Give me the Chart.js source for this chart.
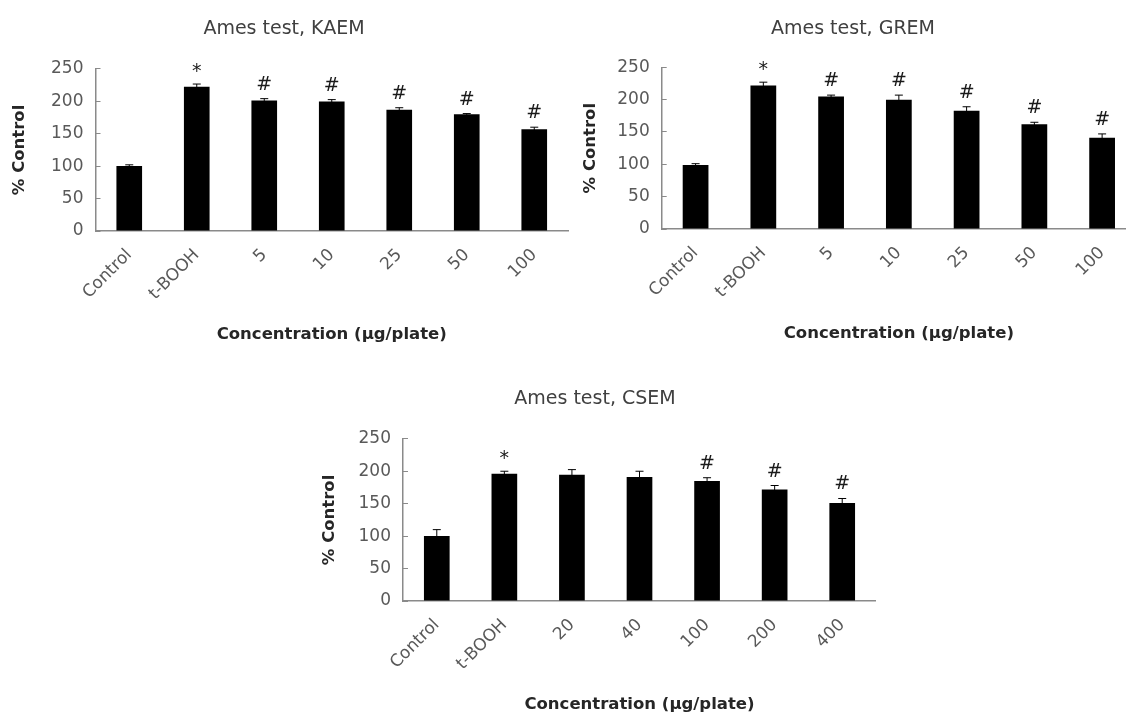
<!DOCTYPE html>
<html>
<head>
<meta charset="utf-8">
<script src="https://cdn.jsdelivr.net/npm/chart.js@4.4.1/dist/chart.umd.min.js"></script>
<style>
  html, body { margin: 0; padding: 0; background: #fff; overflow: hidden; width: 1126px; height: 715px; }
  canvas { position: absolute; }
</style>
</head>
<body>
<canvas id="kaem" width="572" height="360" style="left:0px;top:0px"></canvas>
<canvas id="grem" width="566" height="360" style="left:570px;top:0px"></canvas>
<canvas id="csem" width="562" height="345" style="left:314px;top:370px"></canvas>
<script>
// DATOS
const yTicks = [0, 50, 100, 150, 200, 250];

const catsKAEM = ['Control', 't-BOOH', '5', '10', '25', '50', '100'];
const valsKAEM = [100, 222.5, 201, 199.5, 187, 180, 157];
const errsKAEM = [2, 4, 3, 3, 3, 1, 3];
const marksKAEM = ['', '*', '#', '#', '#', '#', '#'];

const catsGREM = ['Control', 't-BOOH', '5', '10', '25', '50', '100'];
const valsGREM = [99, 222, 205, 200, 183, 162, 141];
const errsGREM = [2, 5, 2, 7, 6, 3, 6];
const marksGREM = ['', '*', '#', '#', '#', '#', '#'];

const catsCSEM = ['Control', 't-BOOH', '20', '40', '100', '200', '400'];
const valsCSEM = [100, 196, 194.5, 191, 185, 172, 151];
const errsCSEM = [10, 4, 8, 9, 5, 6, 7];
const marksCSEM = ['', '*', '', '', '#', '#', '#'];

const FONT = '"DejaVu Sans", Verdana, sans-serif';
const AXIS_GREY = '#8a8a8a';

// barras de error + símbolos de significancia
const errorPlugin = {
    id: 'errorBars',
    afterDatasetsDraw(chart) {
        const ctx = chart.ctx;
        const yScale = chart.scales.y;
        const meta = chart.getDatasetMeta(0);
        const ds = chart.data.datasets[0];
        ctx.save();
        meta.data.forEach((bar, i) => {
            const v = ds.data[i];
            const e = ds.errors[i];
            const yTop = yScale.getPixelForValue(v + e);
            const yBot = yScale.getPixelForValue(v - e);
            ctx.strokeStyle = '#000';
            ctx.lineWidth = 1;
            ctx.beginPath();
            ctx.moveTo(bar.x, yBot);
            ctx.lineTo(bar.x, yTop);
            ctx.moveTo(bar.x - 4, yTop);
            ctx.lineTo(bar.x + 4, yTop);
            ctx.stroke();
            if (ds.marks[i]) {
                ctx.fillStyle = '#1a1a1a';
                ctx.font = '19px ' + FONT;
                ctx.textAlign = 'center';
                ctx.textBaseline = 'alphabetic';
                ctx.fillText(ds.marks[i], bar.x, yTop - (ds.marks[i] === '#' ? 9 : 7));
            }
        });
        ctx.restore();
    }
};

function makeChart(id, title, cats, vals, errs, marks, geo) {
    return new Chart(document.getElementById(id), {
        type: 'bar',
        data: {
            labels: cats,
            datasets: [{
                data: vals,
                errors: errs,
                marks: marks,
                backgroundColor: '#000',
                barPercentage: 1,
                categoryPercentage: 0.38
            }]
        },
        options: {
            responsive: false,
            animation: false,
            layout: { padding: { left: 0, right: geo.padRight, top: 0, bottom: 0 } },
            plugins: {
                legend: { display: false },
                tooltip: { enabled: false },
                title: {
                    display: true,
                    text: title,
                    color: '#404040',
                    font: { family: FONT, size: 19, weight: 'normal' },
                    padding: { top: 18, bottom: geo.titleGap }
                }
            },
            scales: {
                x: {
                    afterFit: (s) => { s.height = geo.xHeight; },
                    grid: { display: false, drawTicks: false },
                    border: { display: true, color: AXIS_GREY, width: 1.5 },
                    ticks: {
                        color: '#595959',
                        font: { family: FONT, size: 17 },
                        minRotation: 45,
                        maxRotation: 45,
                        padding: 14
                    },
                    title: {
                        display: true,
                        text: 'Concentration (μg/plate)',
                        color: '#262626',
                        font: { family: FONT, size: 16.5, weight: 'bold' },
                        padding: { top: 0, bottom: geo.xTitlePad }
                    }
                },
                y: {
                    min: 0,
                    max: 250,
                    afterFit: (s) => { s.width = geo.yWidth; },
                    afterBuildTicks: (s) => { s.ticks = yTicks.map(v => ({ value: v })); },
                    grid: { drawOnChartArea: false, drawTicks: true, tickLength: -5, color: AXIS_GREY },
                    border: { display: true, color: AXIS_GREY, width: 1.5 },
                    ticks: {
                        color: '#595959',
                        font: { family: FONT, size: 17 },
                        padding: 17
                    },
                    title: {
                        display: true,
                        text: '% Control',
                        color: '#262626',
                        font: { family: FONT, size: 16.5, weight: 'bold' },
                        padding: { top: geo.yTitlePad, bottom: 0 }
                    }
                }
            }
        },
        plugins: [errorPlugin]
    });
}

makeChart('kaem', 'Ames test, KAEM', catsKAEM, valsKAEM, errsKAEM, marksKAEM,
    { padRight: 4, titleGap: 28, xHeight: 129, xTitlePad: 15, yWidth: 95.5, yTitlePad: 10 });
makeChart('grem', 'Ames test, GREM', catsGREM, valsGREM, errsGREM, marksGREM,
    { padRight: 0, titleGap: 26.5, xHeight: 131, xTitlePad: 16.5, yWidth: 91.7, yTitlePad: 11 });
makeChart('csem', 'Ames test, CSEM', catsCSEM, valsCSEM, errsCSEM, marksCSEM,
    { padRight: 0, titleGap: 28, xHeight: 114, xTitlePad: 0, yWidth: 89, yTitlePad: 6 });
</script>
</body>
</html>
